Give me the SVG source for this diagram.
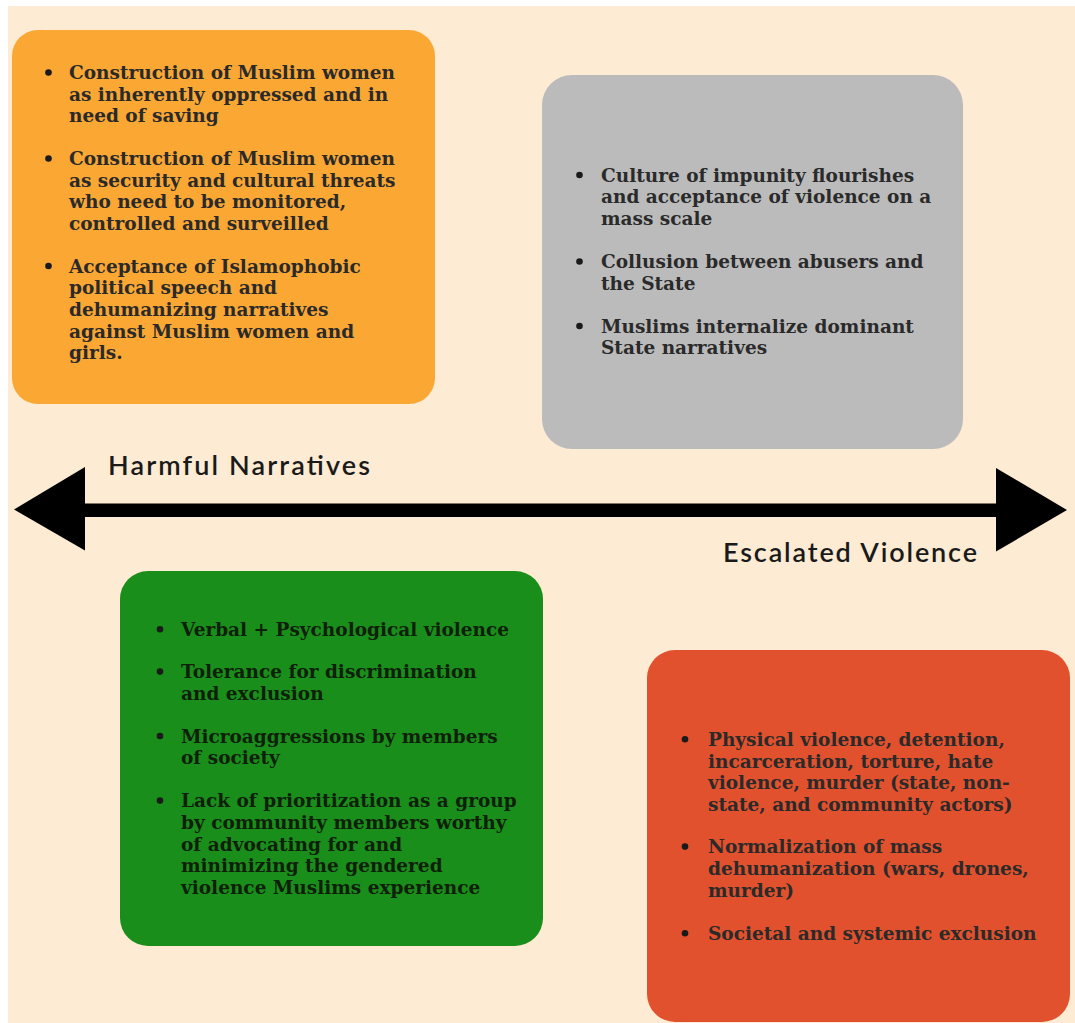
<svg xmlns="http://www.w3.org/2000/svg" width="1075" height="1023" viewBox="0 0 1075 1023">
<style>
.box{stroke:none}
.t{font-family:"DejaVu Serif","Liberation Serif",serif;font-size:18.5px;font-weight:bold;fill:#2a2a2a}
.g .t{fill:#0f1f0a}
.lbl{font-family:Lato,"Liberation Sans",sans-serif;font-size:27px;font-weight:600;fill:#1a1a1a}
.dot{fill:#1a1a1a}
</style>
<rect x="0" y="0" width="1075" height="1023" fill="#ffffff"/>
<rect x="8" y="6" width="1067" height="1017" fill="#fdebd3"/>

<g id="node-harmful-narratives">
<rect class="box" x="12" y="30" width="423" height="374" rx="26" fill="#fba734"/>
<circle class="dot" cx="48.5" cy="72.5" r="3.3"/>
<circle class="dot" cx="48.5" cy="158.5" r="3.3"/>
<circle class="dot" cx="48.5" cy="266" r="3.3"/>
<text class="t" x="69">
<tspan x="69" y="79">Construction of Muslim women</tspan>
<tspan x="69" y="100.7">as inherently oppressed and in</tspan>
<tspan x="69" y="122.3">need of saving</tspan>
<tspan x="69" y="165">Construction of Muslim women</tspan>
<tspan x="69" y="186.7">as security and cultural threats</tspan>
<tspan x="69" y="208.3">who need to be monitored,</tspan>
<tspan x="69" y="230">controlled and surveilled</tspan>
<tspan x="69" y="272.7">Acceptance of Islamophobic</tspan>
<tspan x="69" y="294.3">political speech and</tspan>
<tspan x="69" y="316">dehumanizing narratives</tspan>
<tspan x="69" y="337.7">against Muslim women and</tspan>
<tspan x="69" y="359.3">girls.</tspan>
</text>
</g>

<g id="node-state">
<rect class="box" x="542" y="75" width="421" height="374" rx="30" fill="#bbbbbb"/>
<circle class="dot" cx="579.5" cy="175" r="3.3"/>
<circle class="dot" cx="579.5" cy="261.5" r="3.3"/>
<circle class="dot" cx="579.5" cy="326" r="3.3"/>
<text class="t">
<tspan x="601" y="181.7">Culture of impunity flourishes</tspan>
<tspan x="601" y="203.3">and acceptance of violence on a</tspan>
<tspan x="601" y="225">mass scale</tspan>
<tspan x="601" y="268.3">Collusion between abusers and</tspan>
<tspan x="601" y="290">the State</tspan>
<tspan x="601" y="332.7">Muslims internalize dominant</tspan>
<tspan x="601" y="354.3">State narratives</tspan>
</text>
</g>

<g id="node-verbal" class="g">
<rect class="box" x="120" y="571" width="423" height="375" rx="28" fill="#1a8e1a"/>
<circle class="dot" cx="160" cy="629.3" r="3.3"/>
<circle class="dot" cx="160" cy="671.6" r="3.3"/>
<circle class="dot" cx="160" cy="736" r="3.3"/>
<circle class="dot" cx="160" cy="800.6" r="3.3"/>
<text class="t">
<tspan x="181" y="636">Verbal + Psychological violence</tspan>
<tspan x="181" y="678.3">Tolerance for discrimination</tspan>
<tspan x="181" y="700">and exclusion</tspan>
<tspan x="181" y="742.7">Microaggressions by members</tspan>
<tspan x="181" y="764.3">of society</tspan>
<tspan x="181" y="807.3">Lack of prioritization as a group</tspan>
<tspan x="181" y="829">by community members worthy</tspan>
<tspan x="181" y="850.7">of advocating for and</tspan>
<tspan x="181" y="872.3">minimizing the gendered</tspan>
<tspan x="181" y="894">violence Muslims experience</tspan>
</text>
</g>

<g id="node-physical">
<rect class="box" x="647" y="650" width="423" height="372" rx="28" fill="#e2512d"/>
<circle class="dot" cx="685" cy="739.3" r="3.3"/>
<circle class="dot" cx="685" cy="846.6" r="3.3"/>
<circle class="dot" cx="685" cy="933.3" r="3.3"/>
<text class="t">
<tspan x="708" y="746">Physical violence, detention,</tspan>
<tspan x="708" y="767.7">incarceration, torture, hate</tspan>
<tspan x="708" y="789.3">violence, murder (state, non-</tspan>
<tspan x="708" y="811">state, and community actors)</tspan>
<tspan x="708" y="853.3">Normalization of mass</tspan>
<tspan x="708" y="875">dehumanization (wars, drones,</tspan>
<tspan x="708" y="896.7">murder)</tspan>
<tspan x="708" y="940">Societal and systemic exclusion</tspan>
</text>
</g>

<g id="connectors">
<rect x="80" y="503.5" width="920" height="13.5" fill="#000"/>
<polygon points="14,509.5 85,467 85,550.5" fill="#000"/>
<polygon points="1067,510 996,468 996,551.5" fill="#000"/>
</g>

<g id="labels">
<text class="lbl" x="108" y="475" textLength="262" lengthAdjust="spacing">Harmful Narratives</text>
<text class="lbl" x="723" y="562" textLength="254" lengthAdjust="spacing">Escalated Violence</text>
</g>
</svg>
